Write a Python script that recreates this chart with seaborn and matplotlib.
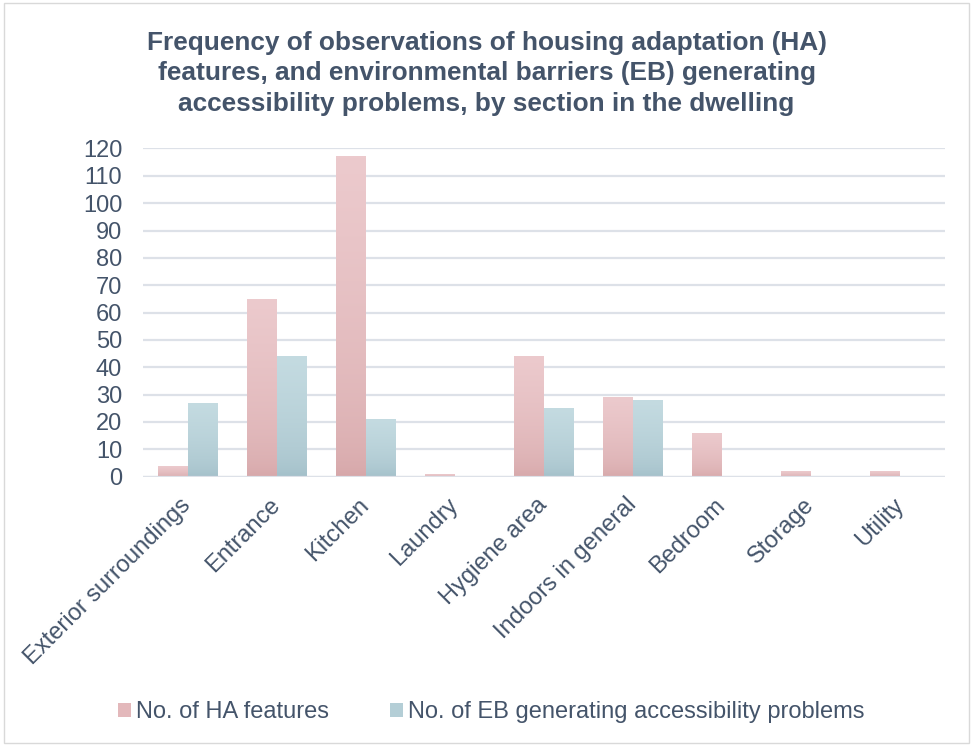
import numpy as np
import pandas as pd
import matplotlib.pyplot as plt
import seaborn as sns
from matplotlib.colors import LinearSegmentedColormap
from matplotlib.patches import Patch, Rectangle

# data
sections = ["Exterior surroundings", "Entrance", "Kitchen", "Laundry", "Hygiene area",
            "Indoors in general", "Bedroom", "Storage", "Utility"]
ha_features = [4, 65, 117, 1, 44, 29, 16, 2, 2]
eb_problems = [27, 44, 21, 0, 25, 28, 0, 0, 0]
series_names = ["No. of HA features", "No. of EB generating accessibility problems"]

df = pd.DataFrame({
    "section": sections * 2,
    "count": ha_features + eb_problems,
    "series": [series_names[0]] * len(sections) + [series_names[1]] * len(sections),
})

TEXT = "#44546A"
GRID = "#DDE1E8"
grads = {
    series_names[0]: ("#ECCACD", "#D5A5A7"),
    series_names[1]: ("#C4DBE1", "#A0BDC7"),
}

sns.set_style("white")
plt.rcParams["font.family"] = ["Liberation Sans", "DejaVu Sans"]

fig = plt.figure(figsize=(9.73, 7.46), dpi=100)
ax = fig.add_axes([0.147, 0.361, 0.824, 0.440])

sns.barplot(data=df, x="section", y="count", hue="series", order=sections,
            hue_order=series_names, width=0.67, gap=0, palette=["#E5B9BC", "#B6D0D8"],
            ax=ax, legend=False, saturation=1)

# repaint each bar with its own vertical gradient (light top, darker bottom)
grad = np.sqrt(np.linspace(0, 1, 256)).reshape(-1, 1)
for i, bar in enumerate(ax.patches):
    name = series_names[i // len(sections)]
    cmap = LinearSegmentedColormap.from_list(name, [grads[name][1], grads[name][0]])
    x0, y0 = bar.get_x(), bar.get_y()
    w, h = bar.get_width(), bar.get_height()
    bar.set_alpha(0)
    if h <= 0:
        continue
    ax.imshow(grad, cmap=cmap, aspect="auto", origin="lower",
              extent=[x0, x0 + w, y0, y0 + h], zorder=3)

ax.set_xlim(-0.5, len(sections) - 0.5)
ax.set_ylim(0, 120)
ax.set_yticks(range(0, 121, 10))
ax.yaxis.grid(True, color=GRID, linewidth=1.6)
ax.set_axisbelow(True)
for s in ax.spines.values():
    s.set_visible(False)
ax.axhline(0, color=GRID, linewidth=1.6, zorder=4)

ax.tick_params(axis="both", length=0, colors=TEXT, labelsize=17)
ax.tick_params(axis="y", pad=15)
ax.tick_params(axis="x", pad=18)
ax.set_xticks(range(len(sections)))
ax.set_xticklabels(sections, rotation=45, ha="right", va="center", rotation_mode="anchor")
ax.set_xlabel("")
ax.set_ylabel("")

fig.suptitle("Frequency of observations of housing adaptation (HA)\n"
             "features, and environmental barriers (EB) generating\n"
             "accessibility problems, by section in the dwelling",
             x=0.50, y=0.959, fontsize=18.9, fontweight="bold", color=TEXT,
             linespacing=1.34)

handles = [Patch(facecolor="#E3B8BB", edgecolor="none"),
           Patch(facecolor="#B4CED6", edgecolor="none")]
fig.legend(handles, series_names, loc="center", bbox_to_anchor=(0.505, 0.045), ncol=2,
           frameon=False, fontsize=17, labelcolor=TEXT, handlelength=0.55,
           handleheight=0.55, handletextpad=0.2, columnspacing=2.6)

fig.patches.append(Rectangle((0.004, 0.004), 0.992, 0.992, transform=fig.transFigure,
                             fill=False, edgecolor="#D9D9D9", linewidth=1))

fig.savefig("out.png", dpi=100)
